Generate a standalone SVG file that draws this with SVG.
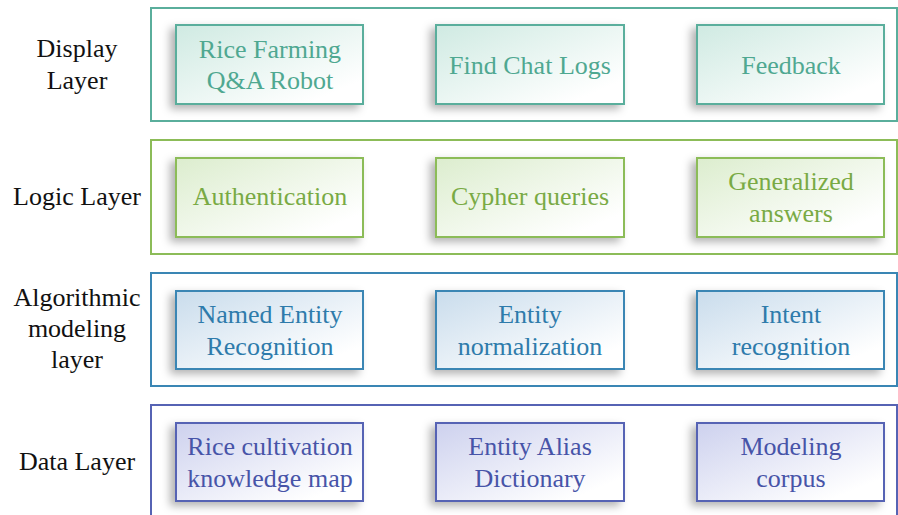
<svg xmlns="http://www.w3.org/2000/svg" width="898" height="515" viewBox="0 0 898 515">
<defs>
<linearGradient id="gT" x1="0" y1="0" x2="1" y2="1"><stop offset="0" stop-color="#cfeae2"/><stop offset="0.85" stop-color="#ffffff"/></linearGradient>
<linearGradient id="gG" x1="0" y1="0" x2="1" y2="1"><stop offset="0" stop-color="#dcedce"/><stop offset="0.85" stop-color="#ffffff"/></linearGradient>
<linearGradient id="gB" x1="0" y1="0" x2="1" y2="1"><stop offset="0" stop-color="#c9dcec"/><stop offset="0.85" stop-color="#ffffff"/></linearGradient>
<linearGradient id="gP" x1="0" y1="0" x2="1" y2="1"><stop offset="0" stop-color="#cdd1ee"/><stop offset="0.85" stop-color="#ffffff"/></linearGradient>
<filter id="sh" x="-20%" y="-20%" width="140%" height="140%"><feDropShadow dx="-5" dy="4" stdDeviation="4" flood-color="#000" flood-opacity="0.3"/></filter>
</defs>
<rect width="898" height="515" fill="#fff"/>
<text font-family="Liberation Serif" font-size="26" fill="#111" text-anchor="middle" x="77" y="57">Display</text>
<text font-family="Liberation Serif" font-size="26" fill="#111" text-anchor="middle" x="77" y="89">Layer</text>
<text font-family="Liberation Serif" font-size="26" fill="#111" text-anchor="middle" x="77" y="205">Logic Layer</text>
<text font-family="Liberation Serif" font-size="26" fill="#111" text-anchor="middle" x="77" y="306">Algorithmic</text>
<text font-family="Liberation Serif" font-size="26" fill="#111" text-anchor="middle" x="77" y="337">modeling</text>
<text font-family="Liberation Serif" font-size="26" fill="#111" text-anchor="middle" x="77" y="368">layer</text>
<text font-family="Liberation Serif" font-size="26" fill="#111" text-anchor="middle" x="77" y="470">Data Layer</text>
<g id="display">
<rect x="151" y="8" width="746" height="113" fill="#fff" stroke="#5aae9c" stroke-width="2"/>
<g id="n-robot"><rect x="176" y="25" width="187" height="79" fill="url(#gT)" stroke="#5aae9c" stroke-width="2" filter="url(#sh)"/></g>
<g id="n-chat"><rect x="436" y="25" width="188" height="79" fill="url(#gT)" stroke="#5aae9c" stroke-width="2" filter="url(#sh)"/></g>
<g id="n-feedback"><rect x="697" y="25" width="187" height="79" fill="url(#gT)" stroke="#5aae9c" stroke-width="2" filter="url(#sh)"/></g>
</g>
<g id="logic">
<rect x="151" y="140" width="746" height="114" fill="#fff" stroke="#8cbc58" stroke-width="2"/>
<g id="n-auth"><rect x="176" y="158" width="187" height="79" fill="url(#gG)" stroke="#8cbc58" stroke-width="2" filter="url(#sh)"/></g>
<g id="n-cypher"><rect x="436" y="158" width="188" height="79" fill="url(#gG)" stroke="#8cbc58" stroke-width="2" filter="url(#sh)"/></g>
<g id="n-gen"><rect x="697" y="158" width="187" height="79" fill="url(#gG)" stroke="#8cbc58" stroke-width="2" filter="url(#sh)"/></g>
</g>
<g id="algo">
<rect x="151" y="273" width="746" height="113" fill="#fff" stroke="#3a86b4" stroke-width="2"/>
<g id="n-ner"><rect x="176" y="291" width="187" height="78" fill="url(#gB)" stroke="#3a86b4" stroke-width="2" filter="url(#sh)"/></g>
<g id="n-norm"><rect x="436" y="291" width="188" height="78" fill="url(#gB)" stroke="#3a86b4" stroke-width="2" filter="url(#sh)"/></g>
<g id="n-intent"><rect x="697" y="291" width="187" height="78" fill="url(#gB)" stroke="#3a86b4" stroke-width="2" filter="url(#sh)"/></g>
</g>
<g id="data">
<rect x="151" y="405" width="746" height="120" fill="#fff" stroke="#5663b4" stroke-width="2"/>
<g id="n-map"><rect x="176" y="423" width="187" height="78" fill="url(#gP)" stroke="#5663b4" stroke-width="2" filter="url(#sh)"/></g>
<g id="n-alias"><rect x="436" y="423" width="188" height="78" fill="url(#gP)" stroke="#5663b4" stroke-width="2" filter="url(#sh)"/></g>
<g id="n-corpus"><rect x="697" y="423" width="187" height="78" fill="url(#gP)" stroke="#5663b4" stroke-width="2" filter="url(#sh)"/></g>
</g>
<text font-family="Liberation Serif" font-size="26" fill="#4fa891" text-anchor="middle" x="270" y="58">Rice Farming</text>
<text font-family="Liberation Serif" font-size="26" fill="#4fa891" text-anchor="middle" x="270" y="89">Q&amp;A Robot</text>
<text font-family="Liberation Serif" font-size="26" fill="#4fa891" text-anchor="middle" x="530" y="74">Find Chat Logs</text>
<text font-family="Liberation Serif" font-size="26" fill="#4fa891" text-anchor="middle" x="791" y="74">Feedback</text>
<text font-family="Liberation Serif" font-size="26" fill="#79aa44" text-anchor="middle" x="270" y="205">Authentication</text>
<text font-family="Liberation Serif" font-size="26" fill="#79aa44" text-anchor="middle" x="530" y="205">Cypher queries</text>
<text font-family="Liberation Serif" font-size="26" fill="#79aa44" text-anchor="middle" x="791" y="190">Generalized</text>
<text font-family="Liberation Serif" font-size="26" fill="#79aa44" text-anchor="middle" x="791" y="222">answers</text>
<text font-family="Liberation Serif" font-size="26" fill="#2e7bab" text-anchor="middle" x="270" y="323">Named Entity</text>
<text font-family="Liberation Serif" font-size="26" fill="#2e7bab" text-anchor="middle" x="270" y="355">Recognition</text>
<text font-family="Liberation Serif" font-size="26" fill="#2e7bab" text-anchor="middle" x="530" y="323">Entity</text>
<text font-family="Liberation Serif" font-size="26" fill="#2e7bab" text-anchor="middle" x="530" y="355">normalization</text>
<text font-family="Liberation Serif" font-size="26" fill="#2e7bab" text-anchor="middle" x="791" y="323">Intent</text>
<text font-family="Liberation Serif" font-size="26" fill="#2e7bab" text-anchor="middle" x="791" y="355">recognition</text>
<text font-family="Liberation Serif" font-size="26" fill="#4754a8" text-anchor="middle" x="270" y="455">Rice cultivation</text>
<text font-family="Liberation Serif" font-size="26" fill="#4754a8" text-anchor="middle" x="270" y="487">knowledge map</text>
<text font-family="Liberation Serif" font-size="26" fill="#4754a8" text-anchor="middle" x="530" y="455">Entity Alias</text>
<text font-family="Liberation Serif" font-size="26" fill="#4754a8" text-anchor="middle" x="530" y="487">Dictionary</text>
<text font-family="Liberation Serif" font-size="26" fill="#4754a8" text-anchor="middle" x="791" y="455">Modeling</text>
<text font-family="Liberation Serif" font-size="26" fill="#4754a8" text-anchor="middle" x="791" y="487">corpus</text>
<g id="connectors"/>
</svg>
